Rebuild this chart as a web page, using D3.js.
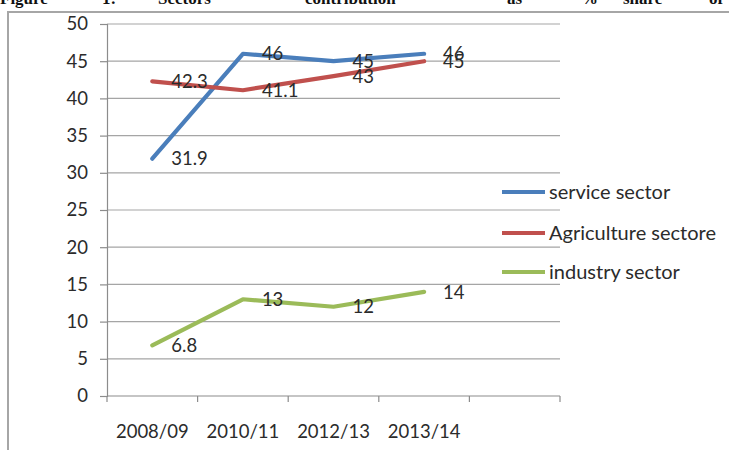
<!DOCTYPE html>
<html>
<head>
<meta charset="utf-8">
<script src="https://cdn.jsdelivr.net/npm/d3@7"></script>
<style>
  html, body { margin: 0; padding: 0; background: #fff; }
  svg { display: block; }
  text { font-family: Lato, "Open Sans", sans-serif; fill: #2b2b2b; }
</style>
</head>
<body>
<svg id="chart" width="729" height="450"></svg>
<script>
// Sector shares of GDP (%) by fiscal year
const categories = ["2008/09", "2010/11", "2012/13", "2013/14"];
const serviceSector = [31.9, 46, 45, 46];
const agricultureSector = [42.3, 41.1, 43, 45];
const industrySector = [6.8, 13, 12, 14];
const seriesNames = ["service sector", "Agriculture sectore", "industry sector"];
const seriesColors = ["#4a7ebb", "#c0504d", "#9bbb59"];
const yTicks = [0, 5, 10, 15, 20, 25, 30, 35, 40, 45, 50];
const captionWords = ["Figure", "1:", "Sectors", "contribution", "as", "%", "share", "of"];

const series = seriesNames.map((name, i) => ({
  name,
  color: seriesColors[i],
  values: [serviceSector, agricultureSector, industrySector][i]
}));

const svg = d3.select("#chart");

// caption line running above the chart frame (justified across the page)
const captionStarts = [0, 102, 158, 305, 507, 581, 623, 709];
svg.append("g").selectAll("text")
  .data(captionWords)
  .join("text")
  .attr("x", (d, i) => captionStarts[i])
  .attr("y", 4)
  .style("font-family", "'Liberation Serif', 'DejaVu Serif', serif")
  .style("font-weight", "bold")
  .style("font-size", "17px")
  .style("fill", "#111")
  .text(d => d);

// chart frame
svg.append("rect")
  .attr("x", 8).attr("y", 12)
  .attr("width", 760).attr("height", 480)
  .attr("fill", "none")
  .attr("stroke", "#a6a6a6")
  .attr("stroke-width", 2);

// the category axis keeps one extra empty slot on the right, under the legend
const x = d3.scaleBand()
  .domain([...categories, ""])
  .range([107, 560])
  .paddingInner(0).paddingOuter(0);

const y = d3.scaleLinear().domain([0, 50]).range([396, 24]);

// horizontal gridlines
svg.append("g")
  .selectAll("line")
  .data(yTicks.filter(t => t > 0))
  .join("line")
  .attr("x1", x.range()[0]).attr("x2", x.range()[1])
  .attr("y1", d => y(d)).attr("y2", d => y(d))
  .attr("stroke", "#a5a5a5")
  .attr("stroke-width", 1.2);

// value axis
const yAxis = svg.append("g")
  .attr("transform", `translate(${x.range()[0]},0)`)
  .call(d3.axisLeft(y).tickValues(yTicks).tickSize(7).tickPadding(12).tickFormat(d3.format("d")));
yAxis.select(".domain").attr("stroke", "#8c8c8c").attr("stroke-width", 1.2);
yAxis.selectAll(".tick line").attr("stroke", "#8c8c8c").attr("stroke-width", 1.2);
yAxis.selectAll(".tick text")
  .style("font-family", "Lato, 'Open Sans', sans-serif")
  .style("font-size", "18.5px")
  .style("fill", "#2b2b2b");

// category axis: ticks sit on the band boundaries
const xAxisG = svg.append("g").attr("transform", `translate(0,${y(0)})`);
const boundaries = x.domain().map(d => x(d)).concat([x.range()[1]]);
xAxisG.append("line")
  .attr("x1", x.range()[0]).attr("x2", x.range()[1])
  .attr("y1", 0).attr("y2", 0)
  .attr("stroke", "#8c8c8c").attr("stroke-width", 1.2);
xAxisG.selectAll("line.tick")
  .data(boundaries)
  .join("line")
  .attr("class", "tick")
  .attr("x1", d => d).attr("x2", d => d)
  .attr("y1", 0).attr("y2", 6)
  .attr("stroke", "#8c8c8c").attr("stroke-width", 1.2);
xAxisG.selectAll("text")
  .data(categories)
  .join("text")
  .attr("x", d => x(d) + x.bandwidth() / 2)
  .attr("y", 42)
  .attr("text-anchor", "middle")
  .style("font-size", "18.5px")
  .text(d => d);

// series lines
const line = d3.line()
  .x((d, i) => x(categories[i]) + x.bandwidth() / 2)
  .y(d => y(d));

svg.append("g")
  .selectAll("path")
  .data(series)
  .join("path")
  .attr("d", s => line(s.values))
  .attr("fill", "none")
  .attr("stroke", s => s.color)
  .attr("stroke-width", 4.2)
  .attr("stroke-linecap", "round")
  .attr("stroke-linejoin", "round");

// value labels to the right of each point
const labelG = svg.append("g");
series.forEach(s => {
  labelG.selectAll(null)
    .data(s.values)
    .join("text")
    .attr("x", (d, i) => x(categories[i]) + x.bandwidth() / 2 + 19)
    .attr("y", d => y(d))
    .attr("dy", "0.36em")
    .style("font-size", "18.5px")
    .text(d => d);
});

// legend
const legend = svg.append("g").attr("transform", "translate(502,0)");
const legendY = [192, 233, 272];
series.forEach((s, i) => {
  legend.append("line")
    .attr("x1", 0).attr("x2", 43)
    .attr("y1", legendY[i]).attr("y2", legendY[i])
    .attr("stroke", s.color)
    .attr("stroke-width", 4.2);
  legend.append("text")
    .attr("x", 47)
    .attr("y", legendY[i])
    .attr("dy", "0.36em")
    .style("font-size", "20px")
    .text(s.name);
});
</script>
</body>
</html>
